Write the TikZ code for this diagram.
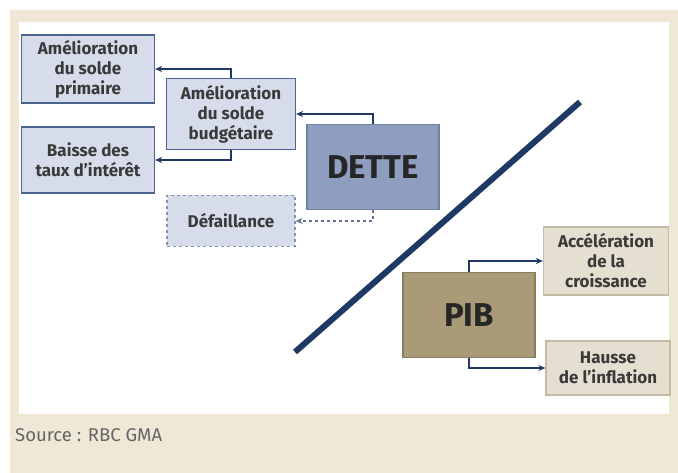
\documentclass[tikz,border=0pt]{standalone}
\usepackage{fontspec}
\setmainfont{Fira Sans}
\usetikzlibrary{arrows.meta}
\definecolor{navy}{HTML}{1F3864}
\definecolor{bluebox}{HTML}{D6DCEA}
\definecolor{blueline}{HTML}{4A6390}
\definecolor{dettefill}{HTML}{8F9DC1}
\definecolor{pibfill}{HTML}{A99B78}
\definecolor{sandbox}{HTML}{E5DFD1}
\definecolor{sandline}{HTML}{C4BBA4}
\definecolor{panel}{HTML}{EFE8D6}
\definecolor{txt}{HTML}{3A3A3A}

\begin{document}
\begin{tikzpicture}[
  x=1pt, y=-1pt,
  effet/.style={draw=blueline, fill=bluebox, line width=1.2pt, align=center,
    font=\fontsize{17}{20}\selectfont\bfseries, text=txt, inner sep=0pt},
  croiss/.style={draw=sandline, fill=sandbox, line width=1.2pt, align=center,
    font=\fontsize{17}{20}\selectfont\bfseries, text=txt, inner sep=0pt},
  grand/.style={line width=1.2pt, minimum width=132pt, minimum height=85pt,
    font=\fontsize{33}{40}\selectfont\bfseries, text=black!85},
  lien/.style={->, draw=navy, line width=1.4pt},
  >={Stealth[length=7pt,width=6pt]}
]
  \useasboundingbox (0,0) rectangle (678,473);
  \fill[panel] (10,10) rectangle (678,473);
  \fill[white] (19,22) rectangle (669,414);

  \node[effet, minimum width=133pt, minimum height=68pt] (primaire) at (88,69)
    {Amélioration\\du solde\\primaire};
  \node[effet, minimum width=133pt, minimum height=66pt] (taux) at (88,160)
    {Baisse des\\taux d'intérêt};
  \node[effet, minimum width=129pt, minimum height=71pt] (budget) at (231,114)
    {Amélioration\\du solde\\budgétaire};
  \node[effet, dashed, draw=blueline!70, minimum width=128pt, minimum height=51pt]
    (defaut) at (231,221) {Défaillance};
  \node[grand, draw=blueline!80, fill=dettefill] (dette) at (373,167) {DETTE};

  \node[grand, draw=pibfill!80!black, fill=pibfill] (pib) at (469,315) {PIB};
  \node[croiss, minimum width=125pt, minimum height=68pt] (accel) at (606,261)
    {Accélération\\de la\\croissance};
  \node[croiss, minimum width=124pt, minimum height=54pt] (hausse) at (608,368)
    {Hausse\\de l'inflation};

  \draw[lien] (dette.north) |- (budget.east);
  \draw[lien, dashed, draw=navy!70] (dette.south) |- (defaut.east);
  \draw[lien] (budget.north) |- (primaire.east);
  \draw[lien] (budget.south) |- (taux.east);
  \draw[lien] (pib.north) |- (accel.west);
  \draw[lien] (pib.south) |- (hausse.west);

  % diagonale
  \coordinate (bas) at (295,352);
  \coordinate (haut) at (580,102);
  \draw[navy, line width=6pt] (bas) -- (haut);

  \node[anchor=west, inner sep=0pt, text=black!60, font=\fontsize{18.5}{22}\selectfont]
    (source) at (15,435) {Source : RBC GMA};
\end{tikzpicture}
\end{document}
